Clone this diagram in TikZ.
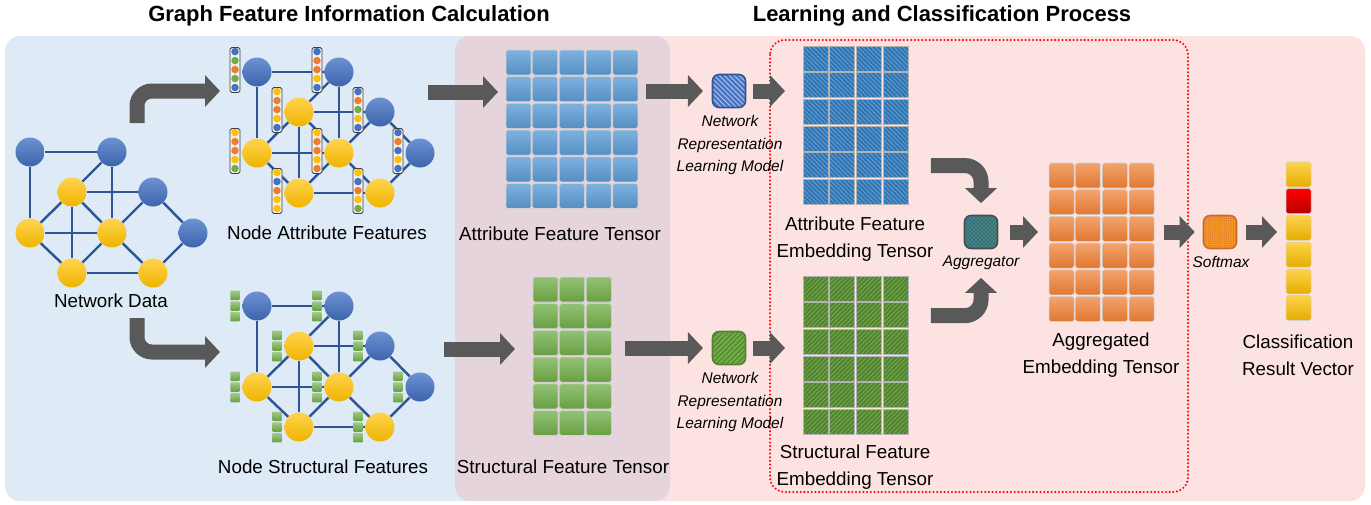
\documentclass[tikz,border=0pt]{standalone}
\usepackage{fontspec}
\setmainfont{Liberation Sans}
\usetikzlibrary{positioning,calc,arrows.meta,patterns.meta}

\definecolor{panelblue}{RGB}{222,235,247}
\definecolor{panelpink}{RGB}{250,160,160}
\definecolor{edgeblue}{RGB}{47,85,151}
\definecolor{nodeblue}{RGB}{68,114,196}
\definecolor{nodeyellow}{RGB}{255,192,0}
\definecolor{featgreen}{RGB}{112,173,71}
\definecolor{featorange}{RGB}{237,125,49}
\definecolor{tensorblue}{RGB}{91,155,213}
\definecolor{arrowgray}{RGB}{89,89,89}
\definecolor{embblue}{RGB}{46,117,182}
\definecolor{embgreen}{RGB}{84,130,53}
\definecolor{aggteal}{RGB}{40,100,160}
\definecolor{softorange}{RGB}{247,150,40}
\definecolor{resred}{RGB}{255,0,0}

% one network: nodes <prefix>1 ... <prefix>9 and their links
\newcommand{\netgraph}[1]{%
  \foreach \n/\px/\py/\sty in {1/30/152/bnode, 2/112/152/bnode, 3/72/192/ynode,
      4/153/192/bnode, 5/30/233/ynode, 6/112/233/ynode, 7/193/233/bnode,
      8/72/273/ynode, 9/153/273/ynode}
    \node[\sty] (#1\n) at (\px,\py) {};
  \foreach \p/\q in {1/2,1/5,2/3,2/6,3/4,3/5,3/6,3/8,5/6,5/8,4/6,6/8,6/9,4/7,7/9,8/9}
    \draw[link] (#1\p) -- (#1\q);
}

% cells of a tensor, laid out from the north west corner of its node
\newcommand{\tensorcells}[4]{%
  \foreach \i in {1,...,#2}
    \foreach \j in {1,...,#3}
      \path[#4] ($(#1.north west)+({26.7*(\i-1)},{26.7*(\j-1)})$) rectangle ++(25,25);
}

\begin{document}
\begin{tikzpicture}[
    x=0.02cm, y=-0.02cm,
    every node/.style={font=\fontsize{10.7}{15.3}\selectfont},
    bnode/.style={circle, inner sep=0pt, minimum size=0.58cm, top color=nodeblue!78!white, bottom color=nodeblue!88!black},
    ynode/.style={circle, inner sep=0pt, minimum size=0.58cm, top color=nodeyellow!70!white, bottom color=nodeyellow!94!black},
    link/.style={draw=edgeblue, line width=1.4pt},
    fbar/.style={rectangle, draw=black!75, line width=0.5pt, fill=black!6, rounded corners=1pt, inner sep=0pt, minimum width=0.2cm, minimum height=0.9cm},
    fdot/.style={circle, inner sep=0pt, minimum size=0.15cm},
    sq/.style={rectangle, inner sep=0pt, minimum size=0.19cm, rounded corners=0.5pt, top color=featgreen!65!white, bottom color=featgreen!92!black},
    tgrid/.style={rectangle, inner sep=0pt, minimum height=3.17cm, anchor=north west},
    bluecell/.style={draw=black!18, line width=0.3pt, rounded corners=1pt, top color=tensorblue!78!white, bottom color=tensorblue!92!black},
    greencell/.style={draw=black!18, line width=0.3pt, rounded corners=1pt, top color=featgreen!75!white, bottom color=featgreen!92!black},
    orangecell/.style={draw=black!18, line width=0.3pt, rounded corners=1pt, top color=featorange!70!white, bottom color=featorange!95!black},
    yellowcell/.style={draw=black!18, line width=0.3pt, rounded corners=1pt, top color=nodeyellow!70!white, bottom color=nodeyellow!90!black},
    redcell/.style={draw=black!18, line width=0.3pt, rounded corners=1pt, top color=resred, bottom color=resred!72!black},
    bluehatch/.style={draw=black!30, line width=0.4pt, preaction={fill=embblue}, pattern={Lines[angle=-45,distance=1.8pt,line width=0.5pt]}, pattern color=embblue!72!white},
    greenhatch/.style={draw=black!30, line width=0.4pt, preaction={fill=embgreen}, pattern={Lines[angle=45,distance=1.8pt,line width=0.5pt]}, pattern color=featgreen},
    modelbox/.style={rectangle, inner sep=0pt, minimum size=0.66cm, rounded corners=0.13cm, line width=0.9pt},
    bigarrow/.style={draw=arrowgray, line width=0.3cm, -{Triangle[length=0.3cm, width=0.62cm]}},
    headtext/.style={font=\fontsize{12.5}{15}\selectfont\bfseries},
    smalltext/.style={font=\fontsize{8.8}{12.75}\selectfont\itshape, align=center},
    twoline/.style={align=center}
]
    \useasboundingbox (0,0) rectangle (1371,504);

    % panels
    \fill[panelblue, rounded corners=0.3cm] (5,36) rectangle (670,501);
    \fill[panelpink, fill opacity=0.3, rounded corners=0.3cm] (455,36) rectangle (1365,501);
    \draw[red, line width=1.3pt, line cap=round, dash pattern=on 0pt off 2.1pt, rounded corners=0.3cm] (770,40) rectangle (1188,492);

    \node[headtext] (title1) at (349,16) {Graph Feature Information Calculation};
    \node[headtext] (title2) at (942,16) {Learning and Classification Process};

    % graphs
    \netgraph{n}
    \node (netlabel) at (111,301) {Network Data};

    \begin{scope}[shift={(227,-80)}]
        \netgraph{a}
    \end{scope}
    \foreach \n/\cols in {1/{nodeblue,featgreen,featorange,featgreen,nodeblue},
        2/{nodeblue,featorange,featorange,nodeyellow,nodeblue},
        3/{nodeyellow,featorange,featorange,nodeyellow,nodeblue},
        4/{nodeblue,featorange,featgreen,nodeyellow,nodeblue},
        5/{nodeyellow,featorange,featorange,nodeyellow,featgreen},
        6/{nodeyellow,featorange,featorange,nodeyellow,featorange},
        7/{nodeblue,featorange,nodeblue,nodeyellow,nodeblue},
        8/{nodeyellow,nodeblue,featorange,nodeyellow,nodeyellow},
        9/{nodeyellow,nodeblue,featorange,nodeyellow,featgreen}} {
        \node[fbar] (bar\n) at ($(a\n)+(-22,-2)$) {};
        \foreach \c [count=\k] in \cols
            \node[fdot, fill=\c] at ($(bar\n.north)+(0,{9*\k-4.5})$) {};
    }
    \node (alabel) at (327,233) {Node Attribute Features};

    \begin{scope}[shift={(227,154)}]
        \netgraph{s}
    \end{scope}
    \foreach \n in {1,...,9}
        \foreach \k in {-1,0,1}
            \node[sq] at ($(s\n)+(-22,{10.7*\k})$) {};
    \node (slabel) at (323,467) {Node Structural Features};

    % tensors
    \node[tgrid, minimum width=2.636cm] (atensor) at (506,50) {};
    \tensorcells{atensor}{5}{6}{bluecell}
    \node (atlabel) at (560,234) {Attribute Feature Tensor};

    \node[tgrid, minimum width=1.568cm] (stensor) at (533,277) {};
    \tensorcells{stensor}{3}{6}{greencell}
    \node (stlabel) at (563,467) {Structural Feature Tensor};

    % representation learning
    \node[modelbox, draw=edgeblue, preaction={fill=nodeblue}, pattern={Lines[angle=-45,distance=2pt,line width=0.6pt]}, pattern color=nodeblue!45!white] (amodel) at (729,91) {};
    \node[smalltext] (amtext) at (730,145) {Network\\Representation\\Learning Model};
    \node[modelbox, draw=embgreen, preaction={fill=featgreen}, pattern={Lines[angle=45,distance=2pt,line width=0.6pt]}, pattern color=embgreen] (smodel) at (729,348) {};
    \node[smalltext] (smtext) at (730,402) {Network\\Representation\\Learning Model};

    \node[tgrid, minimum width=2.102cm] (aemb) at (803,46) {};
    \tensorcells{aemb}{4}{6}{bluehatch}
    \node[twoline] (aelabel) at (855,239) {Attribute Feature\\Embedding Tensor};

    \node[tgrid, minimum width=2.102cm] (semb) at (803,276) {};
    \tensorcells{semb}{4}{6}{greenhatch}
    \node[twoline] (selabel) at (855,467) {Structural Feature\\Embedding Tensor};

    % aggregation and classification
    \node[modelbox, draw=black!70, preaction={fill=aggteal}, pattern={Hatch[angle=45,distance=1.6pt,line width=0.4pt]}, pattern color=featgreen!55!aggteal] (aggr) at (981,232) {};
    \node[smalltext] (aggrtext) at (981,263) {Aggregator};

    \node[tgrid, minimum width=2.102cm] (aggt) at (1049,163) {};
    \tensorcells{aggt}{4}{6}{orangecell}
    \node[twoline] (aggtlabel) at (1101,355) {Aggregated\\Embedding Tensor};

    \node[modelbox, draw=featorange!85!black, preaction={fill=softorange}, pattern={Dots[distance=1.3pt,radius=0.35pt]}, pattern color=featorange!90!black] (softmax) at (1220,232) {};
    \node[smalltext] (softtext) at (1221,262) {Softmax};

    \node[tgrid, minimum width=0.5cm] (resvec) at (1286,162) {};
    \tensorcells{resvec}{1}{6}{yellowcell}
    \path[redcell] ($(resvec.north west)+(0,26.7)$) rectangle ++(25,25);
    \node[twoline] (reslabel) at (1298,355) {Classification\\Result Vector};

    % arrows
    \coordinate (upstart) at (137,123);
    \coordinate (upend) at (220,91);
    \coordinate (downstart) at (137,318);
    \coordinate (downend) at (220,352);
    \coordinate (afeatout) at (428,92);
    \coordinate (sfeatout) at (444,349);

    \draw[bigarrow, rounded corners=0.3cm] (upstart) |- (upend);
    \draw[bigarrow, rounded corners=0.3cm] (downstart) |- (downend);
    \draw[bigarrow, shorten >=0.16cm] (afeatout) -- (afeatout -| atensor.west);
    \draw[bigarrow, shorten >=0.36cm] (sfeatout) -- (sfeatout -| stensor.west);
    \draw[bigarrow, shorten <=0.16cm, shorten >=0.18cm] (atensor.east |- amodel) -- (amodel.west);
    \draw[bigarrow, shorten <=0.25cm, shorten >=0.18cm] (stensor.east |- smodel) -- (smodel.west);
    \draw[bigarrow, shorten <=0.14cm, shorten >=0.36cm] (amodel.east) -- (amodel.east -| aemb.west);
    \draw[bigarrow, shorten <=0.14cm, shorten >=0.36cm] (smodel.east) -- (smodel.east -| semb.west);
    \draw[bigarrow, rounded corners=0.32cm, shorten <=0.44cm, shorten >=0.24cm] ($(aemb.east)+(0,40)$) -| (aggr.north);
    \draw[bigarrow, rounded corners=0.32cm, shorten <=0.44cm, shorten >=0.58cm] ($(semb.east)+(0,-40)$) -| (aggr.south);
    \draw[bigarrow, shorten <=0.24cm, shorten >=0.22cm] (aggr.east) -- (aggr.east -| aggt.west);
    \draw[bigarrow, shorten <=0.18cm, shorten >=0.16cm] (aggt.east |- softmax) -- (softmax.west);
    \draw[bigarrow, shorten <=0.18cm, shorten >=0.18cm] (softmax.east) -- (softmax.east -| resvec.west);
\end{tikzpicture}
\end{document}
